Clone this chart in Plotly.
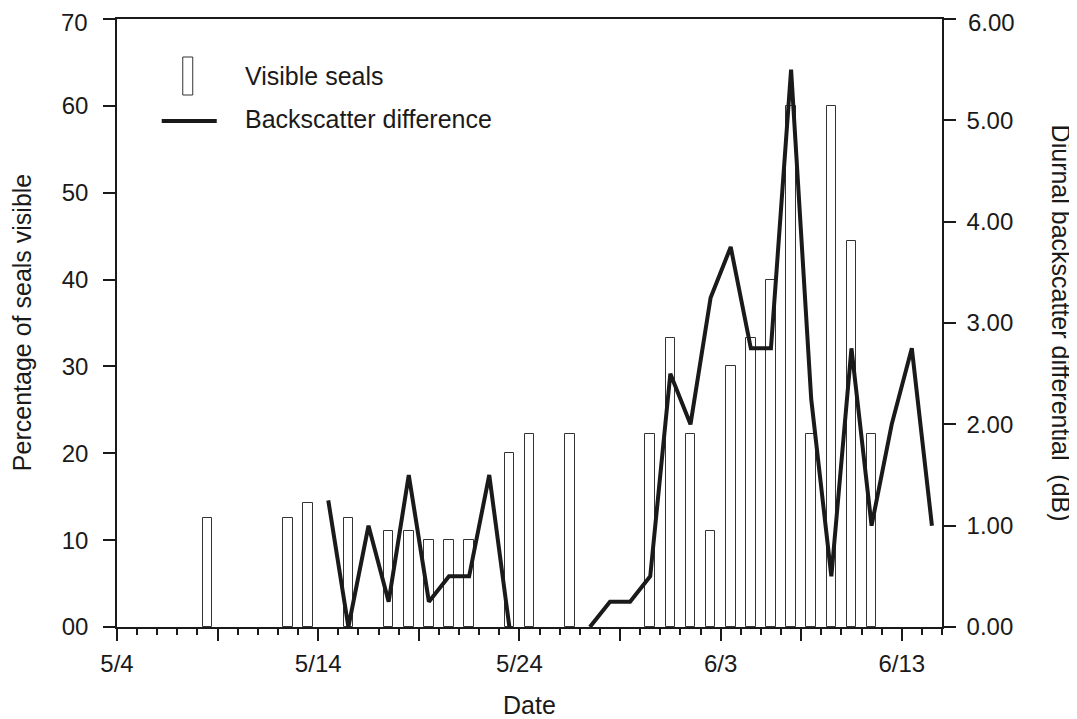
import plotly.graph_objects as go

# Day index counted from 5/4 (0 = 5/4). Observations are plotted at mid-day.
bar_days = [4, 8, 9, 11, 13, 14, 15, 16, 17, 19, 20, 22, 26, 27, 28, 29, 30, 31, 32, 33, 34, 35, 36, 37]
seals_visible = [12.5, 12.5, 14.3, 12.5, 11.1, 11.1, 10, 10, 10, 20, 22.2, 22.2,
                 22.2, 33.3, 22.2, 11.1, 30, 33.3, 40, 60, 22.2, 60, 44.4, 22.2]

line_days = [10, 11, 12, 13, 14, 15, 16, 17, 18, 19, 20, 21, 22, 23, 24, 25, 26, 27,
             28, 29, 30, 31, 32, 33, 34, 35, 36, 37, 38, 39, 40]
backscatter_db = [1.25, 0.0, 1.0, 0.25, 1.5, 0.25, 0.5, 0.5, 1.5, 0.0, None, None, None,
                  0.0, 0.25, 0.25, 0.5, 2.5, 2.0, 3.25, 3.75, 2.75, 2.75, 5.5, 2.25, 0.5,
                  2.75, 1.0, 2.0, 2.75, 1.0]

x_tick_vals = [0, 5, 10, 15, 20, 25, 30, 34, 39]
x_tick_text = ["5/4", "", "5/14", "", "5/24", "", "6/3", "", "6/13"]
y_tick_vals = [0, 10, 20, 30, 40, 50, 60, 70]
y_tick_text = ["00", "10", "20", "30", "40", "50", "60", "70"]
y2_tick_vals = [0, 1, 2, 3, 4, 5, 6]
y2_tick_text = ["0.00", "1.00", "2.00", "3.00", "4.00", "5.00", "6.00"]

FONT = "Liberation Sans, Arial, Helvetica, sans-serif"
INK = "#1a1a1a"

fig = go.Figure()
fig.add_trace(go.Bar(
    x=[d + 0.5 for d in bar_days], y=seals_visible, width=0.48,
    marker=dict(color="white", line=dict(color="#333333", width=1)),
    name="Visible seals", showlegend=False, yaxis="y"))
fig.add_trace(go.Scatter(
    x=[d + 0.5 for d in line_days], y=backscatter_db, mode="lines",
    line=dict(color=INK, width=4), connectgaps=False,
    name="Backscatter difference", showlegend=False, yaxis="y2"))

axis_common = dict(showline=True, linecolor=INK, linewidth=1.5, ticks="outside",
                   tickcolor=INK, tickwidth=1.5, ticklen=12, showgrid=False,
                   zeroline=False, automargin=False, ticklabeloverflow="allow",
                   tickfont=dict(family=FONT, size=24, color=INK))

# The topmost labels sit right at the figure's top edge; they are drawn as
# annotations anchored inside the figure so they are not clipped.
y_axis_text = y_tick_text[:-1] + [""]
y2_axis_text = y2_tick_text[:-1] + [""]

fig.update_layout(
    width=1077, height=719,
    margin=dict(l=109, r=143, t=11, b=100, autoexpand=False),
    paper_bgcolor="white", plot_bgcolor="white",
    font=dict(family=FONT, color=INK),
    bargap=0,
    xaxis=dict(range=[0, 41], tickmode="array", tickvals=x_tick_vals, ticktext=x_tick_text,
               mirror=True, ticklabelstandoff=2,
               minor=dict(ticks="outside", dtick=1, tick0=0, ticklen=6, tickwidth=1.5,
                          tickcolor=INK, showgrid=False),
               **axis_common),
    yaxis=dict(range=[0, 70], tickmode="array", tickvals=y_tick_vals, ticktext=y_axis_text,
               ticklabelstandoff=10, **axis_common),
    yaxis2=dict(range=[0, 6], tickmode="array", tickvals=y2_tick_vals, ticktext=y2_axis_text,
                overlaying="y", side="right", ticklabelstandoff=6, **axis_common),
)

top_y = 1 + 12 / 608
fig.add_annotation(text=y_tick_text[-1], xref="paper", yref="paper", x=-0.0327, y=top_y,
                   showarrow=False, xanchor="right", yanchor="top",
                   font=dict(family=FONT, size=24, color=INK))
fig.add_annotation(text=y2_tick_text[-1], xref="paper", yref="paper", x=1.0295, y=top_y,
                   showarrow=False, xanchor="left", yanchor="top",
                   font=dict(family=FONT, size=24, color=INK))

# Axis titles
fig.add_annotation(text="Date", xref="paper", yref="paper", x=0.5, y=-0.128,
                   showarrow=False, font=dict(family=FONT, size=25, color=INK),
                   xanchor="center", yanchor="middle")
fig.add_annotation(text="Percentage of seals visible", xref="paper", yref="paper",
                   x=-0.115, y=0.5, textangle=-90, showarrow=False,
                   font=dict(family=FONT, size=25, color=INK),
                   xanchor="center", yanchor="middle")
fig.add_annotation(text="Diurnal backscatter differential  (dB)", xref="paper", yref="paper",
                   x=1.1447, y=0.5, textangle=90, showarrow=False,
                   font=dict(family=FONT, size=25, color=INK),
                   xanchor="center", yanchor="middle")

# Hand-drawn legend (tall open bar symbol, long line symbol)
fig.add_shape(type="rect", xref="paper", yref="paper", x0=0.0797, x1=0.0918,
              y0=0.875, y1=0.9375, line=dict(color="#333333", width=1), fillcolor="white")
fig.add_shape(type="line", xref="paper", yref="paper", x0=0.0542, x1=0.1209,
              y0=0.8322, y1=0.8322, line=dict(color=INK, width=4))
fig.add_annotation(text="Visible seals", xref="paper", yref="paper", x=0.1525, y=0.9062,
                   showarrow=False, xanchor="left", yanchor="middle",
                   font=dict(family=FONT, size=25, color=INK))
fig.add_annotation(text="Backscatter difference", xref="paper", yref="paper", x=0.1525,
                   y=0.8354, showarrow=False, xanchor="left", yanchor="middle",
                   font=dict(family=FONT, size=25, color=INK))

fig.write_html("out.html")
